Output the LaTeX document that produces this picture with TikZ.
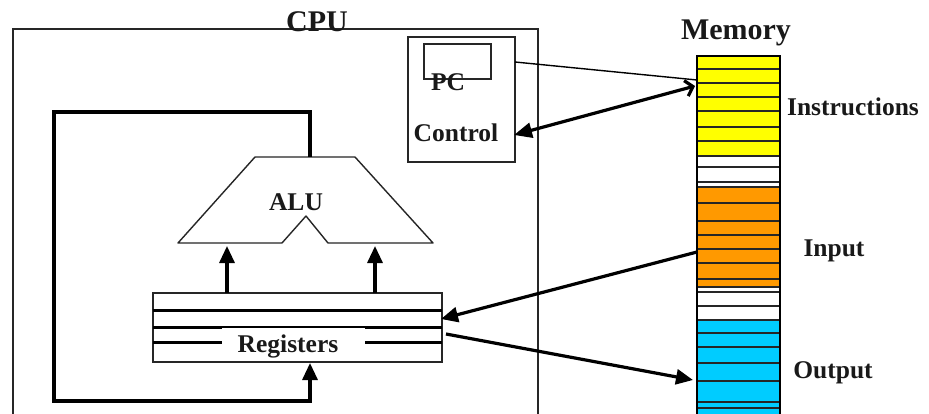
\documentclass[tikz,border=0pt]{standalone}
\usepackage{fontspec}
\setmainfont{Liberation Serif}
\usetikzlibrary{arrows.meta}
\definecolor{memyellow}{HTML}{FFFF00}
\definecolor{memorange}{HTML}{FF9900}
\definecolor{memcyan}{HTML}{00CCFF}
\begin{document}
\begin{tikzpicture}[x=1pt,y=-1pt,
  thinbox/.style={draw=black!85, line width=1.4pt, inner sep=0pt, outer sep=0pt},
  lbl/.style={font=\bfseries\fontsize{25.5}{30}\selectfont, inner sep=0pt, anchor=base, text=black!90},
  biglbl/.style={font=\bfseries\fontsize{30}{34}\selectfont, inner sep=0pt, anchor=base, text=black!90},
  bus/.style={line width=3.2pt},
  head/.style={-{Triangle[length=17pt,width=15pt]}},
  cell/.style={draw=black!85, line width=1.6pt},
]
\useasboundingbox (0,0) rectangle (929,414);
\clip (0,0) rectangle (929,414);
\fill[white] (0,0) rectangle (929,414);

% processor frame and its title (the title sits on the frame line)
\node[thinbox, anchor=north west, minimum width=525pt, minimum height=401pt] (cpu) at (13,29) {};
\node[biglbl] (cputitle) at (317,32) {CPU};

% control unit with program counter
\node[thinbox, anchor=north west, minimum width=107pt, minimum height=125pt] (ctrl) at (408,37) {};
\node[thinbox, anchor=north west, minimum width=67pt, minimum height=35pt] (pc) at (424,44) {};
\node[lbl] (pclabel) at (448,91) {PC};
\node[lbl] (ctrllabel) at (456,142) {Control};

% ALU outline with its input notch
\draw[draw=black!85, line width=1.4pt, line join=round]
  (255,157) -- (355,157) -- (433,243) -- (328,243) -- (306,216)
  -- (282,243) -- (178,243) -- cycle;
\node[lbl] (alulabel) at (296,211) {ALU};
\coordinate (aluout) at (310,157);
\coordinate (aluinA) at (227,246);
\coordinate (aluinB) at (375,246);

% register file
\node[thinbox, anchor=north west, minimum width=289pt, minimum height=69pt] (regs) at (153,293) {};
\draw[line width=3pt] (153,310) -- (442,310);
\draw[line width=3pt] (153,327) -- (222,327) (365,327) -- (442,327);
\draw[line width=1.4pt] (222,327) -- (365,327);
\draw[line width=3pt] (153,342) -- (222,342) (365,342) -- (442,342);
\node[lbl] (regslabel) at (288,352) {Registers};
\coordinate (regoutA) at (227,293);
\coordinate (regoutB) at (375,293);
\coordinate (regin) at (310,363);

% memory column
\foreach \a/\b in {56/69,69/83,83/97,97/111,111/127,127/141,141/156}
  \draw[cell, fill=memyellow] (697,\a) rectangle (780,\b);
\foreach \a/\b in {156/167,167/182,182/187,287/292,292/306,306/320}
  \draw[cell, fill=white] (697,\a) rectangle (780,\b);
\foreach \a/\b in {187/203,203/221,221/235,235/249,249/263,263/279,279/287}
  \draw[cell, fill=memorange] (697,\a) rectangle (780,\b);
\foreach \a/\b in {320/333,333/347,347/363,363/381,381/402,402/408,408/430}
  \draw[cell, fill=memcyan] (697,\a) rectangle (780,\b);
\node[draw=black, line width=2.6pt, inner sep=0pt, outer sep=0pt, anchor=north west,
      minimum width=83pt, minimum height=374pt] (mem) at (697,56) {};
\node[biglbl] (memtitle) at (736,40) {Memory};
\node[lbl] (instr) at (853,116) {Instructions};
\node[lbl] (input) at (834,256) {Input};
\node[lbl] (output) at (833,378) {Output};

% connector end points
\coordinate (pcout) at (515,62);
\coordinate (mempc) at (697,80);
\coordinate (ctrlport) at (514,135);
\coordinate (memins) at (695,86);
\coordinate (meminp) at (697,252);
\coordinate (reginp) at (441,319);
\coordinate (regout) at (446,334);
\coordinate (memout) at (693,380);

% data paths
\draw[line width=1.4pt] (pcout) -- (mempc);
\draw[bus, {Triangle[length=18pt,width=15pt]}-{Straight Barb[length=7pt,width=16pt]}] (ctrlport) -- (memins);
\draw[bus, head] (regoutA) -- (aluinA);
\draw[bus, head] (regoutB) -- (aluinB);
\draw[bus, head, line join=miter] (aluout) -- (310,112) -- (54,112) -- (54,401) -- (310,401) -- (regin);
\draw[bus, head] (meminp) -- (reginp);
\draw[bus, head] (regout) -- (memout);
\end{tikzpicture}
\end{document}
